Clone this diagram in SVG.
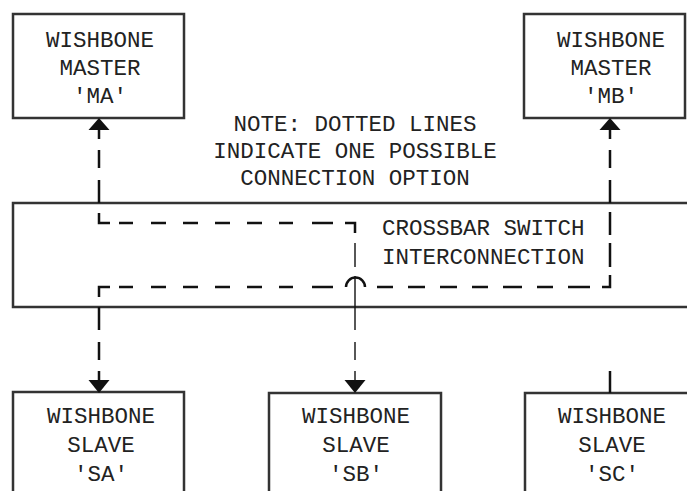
<svg xmlns="http://www.w3.org/2000/svg" width="687" height="491" viewBox="0 0 687 491">
<style>
.box{fill:#fff;stroke:#333;stroke-width:2.5}
.t{font-family:"Liberation Mono","Courier New",monospace;font-size:22.5px;fill:#222;text-anchor:middle}
.tl{text-anchor:start}
.c{fill:none;stroke:#111;stroke-width:2.5}
.thin{fill:none;stroke:#111;stroke-width:1.4}
.ah{fill:#111}
</style>
<rect width="687" height="491" fill="#fff"/>
<g id="crossbar">
<rect class="box" x="13" y="203" width="700" height="104"/>
<text class="t tl" x="382" y="235">CROSSBAR SWITCH</text>
<text class="t tl" x="382" y="264">INTERCONNECTION</text>
</g>
<g id="master-ma">
<rect class="box" x="13" y="14" width="171" height="104"/>
<text class="t" x="100" y="47">WISHBONE</text>
<text class="t" x="100" y="75">MASTER</text>
<text class="t" x="100" y="103">'MA'</text>
</g>
<g id="master-mb">
<rect class="box" x="524" y="14" width="161" height="104"/>
<text class="t" x="611" y="47">WISHBONE</text>
<text class="t" x="611" y="75">MASTER</text>
<text class="t" x="611" y="103">'MB'</text>
</g>
<g id="slave-sa">
<rect class="box" x="13" y="392" width="171" height="130"/>
<text class="t" x="101" y="423">WISHBONE</text>
<text class="t" x="101" y="452">SLAVE</text>
<text class="t" x="101" y="481">'SA'</text>
</g>
<g id="slave-sb">
<rect class="box" x="269" y="393" width="172" height="130"/>
<text class="t" x="356" y="423">WISHBONE</text>
<text class="t" x="356" y="452">SLAVE</text>
<text class="t" x="356" y="481">'SB'</text>
</g>
<g id="slave-sc">
<rect class="box" x="525" y="393" width="200" height="130"/>
<text class="t" x="612" y="423">WISHBONE</text>
<text class="t" x="612" y="452">SLAVE</text>
<text class="t" x="612" y="481">'SC'</text>
</g>
<g id="note">
<text class="t" x="355" y="131">NOTE: DOTTED LINES</text>
<text class="t" x="355" y="158">INDICATE ONE POSSIBLE</text>
<text class="t" x="355" y="185">CONNECTION OPTION</text>
</g>
<g id="connectors">
<path class="c" d="M99,129V139M99,150V168M99,180V203M99,213V223H110M119,223H133M151,223H166M183,223H198M215,223H230M247,223H262M279,223H293M312,223H333M345,223H355V233"/>
<path class="thin" d="M355,243V267M355,276V330M355,342V360M355,371V381"/>
<path class="c" d="M610,129V139M610,150V168M610,180V203M610,212V235M610,243V267M610,275V287H602M590,287H568M553,287H537M522,287H503M488,287H472M457,287H440M425,287H408M393,287H377M365,287A9.5,9.5 0 0 0 346,287M333,287H312M293,287H279M262,287H247M230,287H215M198,287H183M166,287H151M133,287H119M110,287H99V297M99,307V330M99,342V360M99,371V381"/>
<path class="c" d="M610,371V393"/>
<path class="ah" d="M99,118L88.5,130H109.5Z"/>
<path class="ah" d="M610,118L599.5,130H620.5Z"/>
<path class="ah" d="M99,393L88.5,380H109.5Z"/>
<path class="ah" d="M355,393L344.5,380H365.5Z"/>
</g>
</svg>
